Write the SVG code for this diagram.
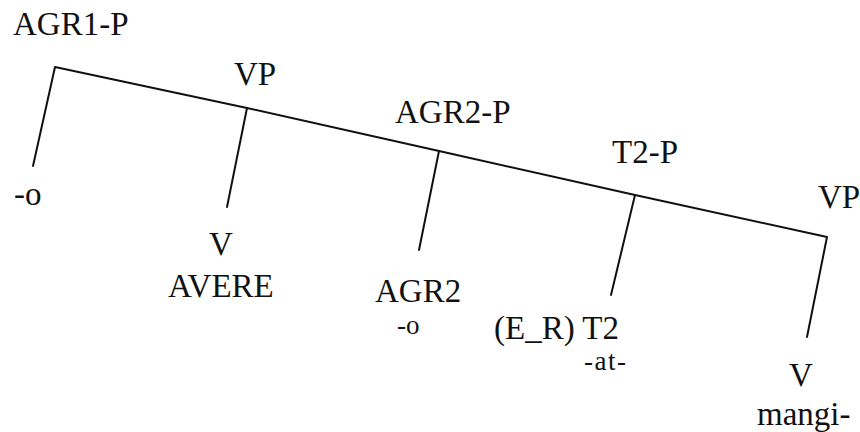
<svg xmlns="http://www.w3.org/2000/svg" width="860" height="432" viewBox="0 0 860 432">
<style>
text{font-family:"Liberation Serif","Times New Roman",serif;fill:#111;font-size:33px}
.sm{font-size:27px}
.edge{stroke:#111;stroke-width:2;fill:none;stroke-linecap:round;stroke-linejoin:round}
</style>
<rect width="860" height="432" fill="#fff"/>
<g id="connectors">
<polyline class="edge" points="33,166 55,67 247,108 439,151 635,195 827,237 807,337"/>
<line class="edge" x1="247" y1="108" x2="227" y2="207"/>
<line class="edge" x1="439" y1="151" x2="419" y2="250"/>
<line class="edge" x1="635" y1="195" x2="611" y2="295"/>
</g>
<g id="agr1p"><text x="13" y="35">AGR1-P</text></g>
<g id="o1"><text x="14" y="205">-o</text></g>
<g id="vp1"><text x="234" y="85">VP</text></g>
<g id="v1"><text x="209" y="255">V</text><text x="168" y="297">AVERE</text></g>
<g id="agr2p"><text x="395" y="123">AGR2-P</text></g>
<g id="agr2"><text x="375" y="302">AGR2</text><text class="sm" x="397" y="334">-o</text></g>
<g id="t2p"><text x="612" y="163">T2-P</text></g>
<g id="t2"><text x="494" y="339">(E_R) T2</text><text class="sm" x="584" y="370" letter-spacing="1.5">-at-</text></g>
<g id="vp2"><text x="818" y="208">VP</text></g>
<g id="v2"><text x="789" y="386">V</text><text x="757" y="425">mangi-</text></g>
</svg>
